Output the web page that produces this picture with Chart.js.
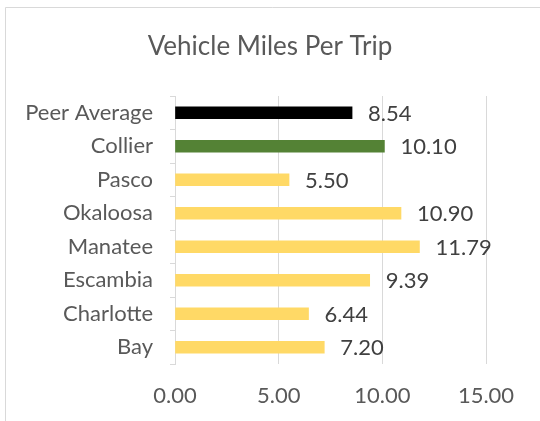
<!DOCTYPE html>
<html lang="en">
<head>
    <meta charset="UTF-8">
    <title>Vehicle Miles Per Trip</title>
    <script src="https://cdn.jsdelivr.net/npm/chart.js"></script>
    <style>
        html, body { margin: 0; padding: 0; background: #ffffff; }
        #wrap { width: 540px; height: 421px; }
    </style>
</head>
<body>
<div id="wrap"><canvas id="vmtChart" width="540" height="421"></canvas></div>

<script>
    // data
    const counties = ['Peer Average', 'Collier', 'Pasco', 'Okaloosa', 'Manatee', 'Escambia', 'Charlotte', 'Bay'];
    const milesPerTrip = [8.54, 10.10, 5.50, 10.90, 11.79, 9.39, 6.44, 7.20];
    const xTicks = [0, 5, 10, 15];
    const chartTitle = 'Vehicle Miles Per Trip';

    const barColors = counties.map(c => c === 'Peer Average' ? '#000000' : (c === 'Collier' ? '#548235' : '#FFD966'));
    const FONT = 'Lato, "Open Sans", sans-serif';

    // outer frame + title centred on the whole chart, Excel style
    const framePlugin = {
        id: 'frame',
        beforeDraw(chart) {
            const ctx = chart.ctx;
            ctx.save();
            ctx.fillStyle = '#ffffff';
            ctx.fillRect(0, 0, chart.width, chart.height);
            ctx.strokeStyle = '#d9d9d9';
            ctx.lineWidth = 1;
            ctx.beginPath();
            ctx.moveTo(5.5, chart.height);
            ctx.lineTo(5.5, 7.5);
            ctx.lineTo(chart.width, 7.5);
            ctx.stroke();

            ctx.font = '26px ' + FONT;
            ctx.fillStyle = '#595959';
            ctx.textAlign = 'center';
            ctx.textBaseline = 'middle';
            ctx.fillText(chartTitle, 270, 47);
            ctx.restore();
        }
    };

    // value labels at the end of each bar
    const valueLabels = {
        id: 'valueLabels',
        afterDatasetsDraw(chart) {
            const ctx = chart.ctx;
            const meta = chart.getDatasetMeta(0);
            ctx.save();
            ctx.font = '22px ' + FONT;
            ctx.fillStyle = '#404040';
            ctx.textAlign = 'left';
            ctx.textBaseline = 'middle';
            meta.data.forEach((bar, i) => {
                ctx.fillText(milesPerTrip[i].toFixed(2), bar.x + 16, bar.y + 1);
            });
            ctx.restore();
        }
    };

    new Chart(document.getElementById('vmtChart'), {
        type: 'bar',
        data: {
            labels: counties,
            datasets: [{
                data: milesPerTrip,
                backgroundColor: barColors,
                barThickness: 12
            }]
        },
        options: {
            indexAxis: 'y',
            responsive: false,
            animation: false,
            layout: { padding: { left: 0, right: 54, top: 96, bottom: 0 } },
            plugins: {
                legend: { display: false },
                tooltip: { enabled: false },
                title: { display: false }
            },
            scales: {
                x: {
                    min: 0,
                    max: 15,
                    afterBuildTicks(scale) {
                        scale.ticks = xTicks.map(v => ({ value: v }));
                    },
                    afterFit(scale) { scale.height = 57; },
                    border: { display: false },
                    grid: { color: '#d9d9d9', drawTicks: false },
                    ticks: {
                        padding: 19,
                        color: '#595959',
                        font: { family: FONT, size: 22 },
                        callback: v => Number(v).toFixed(2)
                    }
                },
                y: {
                    afterFit(scale) { scale.width = 175; },
                    border: { display: true, color: '#d9d9d9' },
                    grid: {
                        offset: true,
                        drawOnChartArea: false,
                        drawTicks: true,
                        tickLength: 5,
                        color: '#d9d9d9'
                    },
                    ticks: {
                        padding: 17,
                        color: '#595959',
                        font: { family: FONT, size: 22 }
                    }
                }
            }
        },
        plugins: [framePlugin, valueLabels]
    });
</script>
</body>
</html>
